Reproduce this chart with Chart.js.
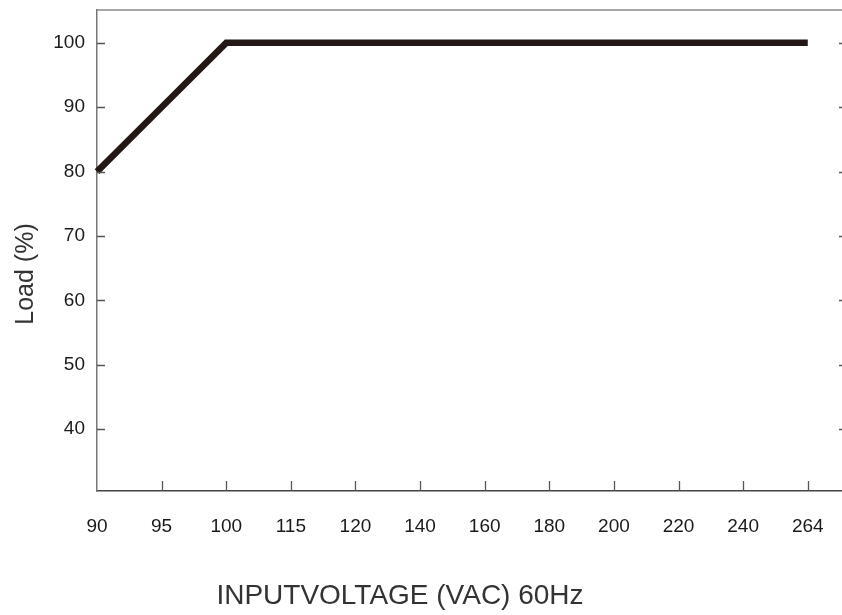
<!DOCTYPE html>
<html>
<head>
<meta charset="utf-8">
<script src="https://cdn.jsdelivr.net/npm/chart.js@4"></script>
<style>
  html, body { margin: 0; padding: 0; background: #fff; }
</style>
</head>
<body>
<canvas id="graph" width="842" height="615"></canvas>
<script>
// Input voltage categories (x axis) and derating curve
const voltageLabels = ['90', '95', '100', '115', '120', '140', '160', '180', '200', '220', '240', '264'];
const loadValues = [80, 90, 100, 100, 100, 100, 100, 100, 100, 100, 100, 100];
const loadTicks = [40, 50, 60, 70, 80, 90, 100];

const xTitle = 'INPUTVOLTAGE (VAC) 60Hz';
const yTitle = 'Load (%)';

// draws the frame top line, inward tick marks and axis titles
const framePlugin = {
    id: 'frame',
    afterDraw(chart) {
        const ctx = chart.ctx;
        const area = chart.chartArea;
        const x = chart.scales.x;
        const y = chart.scales.y;
        ctx.save();
        ctx.strokeStyle = '#888';
        ctx.lineWidth = 1.5;
        ctx.beginPath();
        ctx.moveTo(area.left, area.top);
        ctx.lineTo(area.right, area.top);
        ctx.stroke();

        ctx.strokeStyle = '#555';
        ctx.lineWidth = 1.3;
        y.ticks.forEach(t => {
            const py = Math.round(y.getPixelForValue(t.value)) + 0.5;
            ctx.beginPath();
            ctx.moveTo(area.left, py);
            ctx.lineTo(area.left + 8, py);
            ctx.moveTo(area.right - 3, py);
            ctx.lineTo(area.right, py);
            ctx.stroke();
        });
        x.ticks.forEach(t => {
            if (t.value === 0) return;
            const px = Math.round(x.getPixelForValue(t.value)) + 0.5;
            ctx.beginPath();
            ctx.moveTo(px, area.bottom);
            ctx.lineTo(px, area.bottom - 10);
            ctx.stroke();
        });

        ctx.fillStyle = '#333';
        ctx.textAlign = 'center';
        ctx.textBaseline = 'alphabetic';
        ctx.font = '28px "Liberation Sans", sans-serif';
        ctx.fillText(xTitle, 400, 604);
        ctx.translate(33, 274);
        ctx.rotate(-Math.PI / 2);
        ctx.font = '25px "Liberation Sans", sans-serif';
        ctx.fillText(yTitle, 0, 0);
        ctx.restore();
    }
};

const ctx = document.getElementById('graph').getContext('2d');
new Chart(ctx, {
    type: 'line',
    data: {
        datasets: [{
            label: 'Load',
            data: loadValues.map((v, i) => ({ x: i, y: v })),
            borderColor: '#231815',
            borderWidth: 6.5,
            pointRadius: 0,
            fill: false,
            tension: 0,
            clip: false
        }]
    },
    options: {
        responsive: false,
        animation: false,
        layout: { padding: { top: 10, right: 0, left: 0, bottom: 0 } },
        plugins: {
            legend: { display: false },
            tooltip: { enabled: false }
        },
        scales: {
            x: {
                type: 'linear',
                min: 0,
                max: 11.53,
                afterBuildTicks: s => { s.ticks = voltageLabels.map((l, i) => ({ value: i })); },
                afterFit: s => { s.height = 124; s.paddingLeft = 0; s.paddingRight = 0; },
                grid: { display: false, drawTicks: false },
                border: { color: '#444', width: 1.5 },
                ticks: {
                    padding: 24,
                    color: '#1a1a1a',
                    font: { family: 'Liberation Sans', size: 19 },
                    maxRotation: 0,
                    autoSkip: false,
                    callback: v => voltageLabels[v]
                }
            },
            y: {
                min: 30.4,
                max: 105.1,
                afterBuildTicks: s => { s.ticks = loadTicks.map(v => ({ value: v })); },
                afterFit: s => { s.width = 97; s.paddingTop = 0; s.paddingBottom = 0; },
                grid: { display: false, drawTicks: false },
                border: { color: '#777', width: 1.5 },
                ticks: {
                    padding: 12,
                    color: '#1a1a1a',
                    font: { family: 'Liberation Sans', size: 19 }
                }
            }
        }
    },
    plugins: [framePlugin]
});
</script>
</body>
</html>
